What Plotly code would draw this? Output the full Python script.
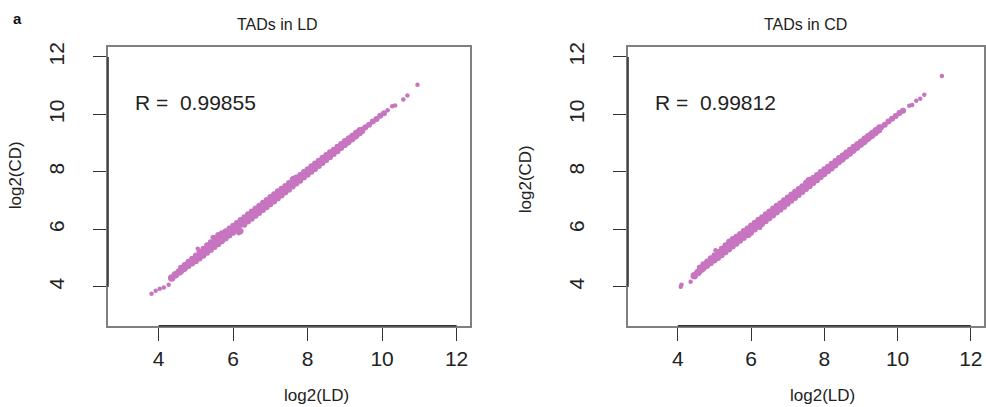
import plotly.graph_objects as go

# ---------------- data ----------------
# Panel 1: TADs in LD  (x = log2(LD), y = log2(CD))
ld_center_x = [4.35, 4.45, 4.55, 4.65, 4.75, 4.85, 4.95, 5.05, 5.15, 5.25, 5.35, 5.45, 5.55, 5.65, 5.75,
               5.85, 5.95, 6.05, 6.15, 6.25, 6.35, 6.45, 6.55, 6.65, 6.75, 6.85, 6.95, 7.05, 7.15, 7.25,
               7.35, 7.45, 7.55, 7.65, 7.75, 7.85, 7.95, 8.05, 8.15, 8.25, 8.35, 8.45, 8.55, 8.65, 8.75,
               8.85, 8.95, 9.05, 9.15, 9.25, 9.35, 9.45, 9.55, 9.65, 9.75, 9.85, 9.95, 10.05]
ld_center_y = [4.30, 4.42, 4.51, 4.63, 4.73, 4.85, 4.94, 5.04, 5.16, 5.24, 5.36, 5.45, 5.57, 5.66, 5.76,
               5.84, 5.97, 6.05, 6.14, 6.26, 6.35, 6.46, 6.54, 6.66, 6.75, 6.86, 6.94, 7.05, 7.16, 7.24,
               7.36, 7.45, 7.54, 7.66, 7.74, 7.85, 7.95, 8.04, 8.15, 8.24, 8.35, 8.45, 8.54, 8.65, 8.74,
               8.85, 8.95, 9.04, 9.15, 9.24, 9.35, 9.44, 9.55, 9.64, 9.75, 9.84, 9.95, 10.04]
ld_edge_x = [4.6, 4.7, 4.8, 4.9, 5.0, 5.1, 5.2, 5.3, 5.4, 5.5, 5.6, 5.7, 5.8, 5.9, 6.0, 6.1, 6.2,
             6.3, 6.4, 6.5, 6.6, 6.7, 6.8, 6.9, 7.0, 7.1, 7.2, 7.3, 7.4, 7.5, 7.6, 7.7, 7.8, 7.9,
             8.0, 8.1, 8.2, 8.3, 8.4, 8.5, 8.6, 8.7, 8.8, 8.9, 9.0, 9.1, 9.2, 9.3, 9.4]
ld_upper_y = [4.66, 4.76, 4.87, 4.97, 5.09, 5.21, 5.32, 5.44, 5.55, 5.70, 5.80, 5.86, 5.93, 6.03, 6.12,
              6.22, 6.32, 6.42, 6.52, 6.62, 6.72, 6.82, 6.92, 7.02, 7.12, 7.22, 7.32, 7.41, 7.51, 7.61,
              7.73, 7.80, 7.89, 7.99, 8.09, 8.19, 8.29, 8.39, 8.49, 8.59, 8.68, 8.77, 8.87, 8.97, 9.07,
              9.16, 9.26, 9.36, 9.46]
ld_lower_y = [4.53, 4.63, 4.72, 4.81, 4.89, 4.98, 5.08, 5.18, 5.28, 5.38, 5.48, 5.58, 5.68, 5.78, 5.88,
              5.96, 5.94, 6.16, 6.27, 6.37, 6.47, 6.57, 6.67, 6.77, 6.87, 6.97, 7.07, 7.18, 7.28, 7.38,
              7.49, 7.59, 7.69, 7.80, 7.90, 8.00, 8.10, 8.20, 8.31, 8.41, 8.51, 8.62, 8.72, 8.83, 8.93,
              9.03, 9.13, 9.24, 9.34]
ld_dots_x = [3.81, 3.92, 4.03, 4.14, 4.27, 5.05, 5.45, 5.60, 5.55, 6.15, 6.20, 7.60, 7.65,
             10.15, 10.27, 10.35, 10.57, 10.68, 10.95]
ld_dots_y = [3.76, 3.86, 3.93, 3.97, 4.07, 5.32, 5.72, 5.80, 5.64, 5.86, 5.90, 7.78, 7.80,
             10.14, 10.28, 10.31, 10.52, 10.66, 11.03]

# Panel 2: TADs in CD
cd_center_x = [4.45, 4.55, 4.65, 4.75, 4.85, 4.95, 5.05, 5.15, 5.25, 5.35, 5.45, 5.55, 5.65, 5.75,
               5.85, 5.95, 6.05, 6.15, 6.25, 6.35, 6.45, 6.55, 6.65, 6.75, 6.85, 6.95, 7.05, 7.15, 7.25,
               7.35, 7.45, 7.55, 7.65, 7.75, 7.85, 7.95, 8.05, 8.15, 8.25, 8.35, 8.45, 8.55, 8.65, 8.75,
               8.85, 8.95, 9.05, 9.15, 9.25, 9.35, 9.45, 9.55, 9.65, 9.75, 9.85, 9.95, 10.05, 10.15]
cd_center_y = [4.38, 4.50, 4.62, 4.73, 4.84, 4.95, 5.04, 5.15, 5.25, 5.34, 5.46, 5.55, 5.64, 5.76,
               5.85, 5.94, 6.05, 6.15, 6.24, 6.36, 6.45, 6.55, 6.64, 6.76, 6.85, 6.95, 7.05, 7.14, 7.25,
               7.36, 7.45, 7.55, 7.64, 7.75, 7.86, 7.95, 8.05, 8.14, 8.25, 8.35, 8.44, 8.55, 8.65, 8.74,
               8.85, 8.95, 9.04, 9.15, 9.25, 9.34, 9.45, 9.55, 9.64, 9.75, 9.85, 9.94, 10.05, 10.13]
cd_edge_x = [4.6, 4.7, 4.8, 4.9, 5.0, 5.1, 5.2, 5.3, 5.4, 5.5, 5.6, 5.7, 5.8, 5.9, 6.0, 6.1, 6.2,
             6.3, 6.4, 6.5, 6.6, 6.7, 6.8, 6.9, 7.0, 7.1, 7.2, 7.3, 7.4, 7.5, 7.6, 7.7, 7.8, 7.9,
             8.0, 8.1, 8.2, 8.3, 8.4, 8.5, 8.6, 8.7, 8.8, 8.9, 9.0, 9.1, 9.2, 9.3, 9.4, 9.5]
cd_upper_y = [4.67, 4.78, 4.88, 4.99, 5.10, 5.21, 5.32, 5.44, 5.56, 5.66, 5.74, 5.84, 5.94, 6.03, 6.13,
              6.23, 6.33, 6.42, 6.52, 6.62, 6.72, 6.82, 6.91, 7.01, 7.11, 7.21, 7.31, 7.40, 7.50, 7.62,
              7.72, 7.79, 7.89, 7.99, 8.09, 8.18, 8.28, 8.38, 8.48, 8.57, 8.67, 8.77, 8.87, 8.96, 9.06,
              9.16, 9.26, 9.35, 9.45, 9.55]
cd_lower_y = [4.54, 4.64, 4.73, 4.82, 4.91, 5.00, 5.10, 5.20, 5.30, 5.40, 5.50, 5.60, 5.70, 5.79, 5.88,
              5.99, 6.09, 6.18, 6.28, 6.38, 6.48, 6.58, 6.68, 6.78, 6.89, 6.99, 7.09, 7.19, 7.30, 7.40,
              7.50, 7.61, 7.71, 7.81, 7.92, 8.02, 8.12, 8.22, 8.33, 8.43, 8.53, 8.63, 8.74, 8.84, 8.94,
              9.04, 9.15, 9.25, 9.35, 9.45]
cd_dots_x = [4.08, 4.10, 4.35, 5.03, 5.40, 5.50, 5.95, 6.25, 7.55, 10.32, 10.40, 10.51, 10.62, 10.73, 11.21]
cd_dots_y = [4.00, 4.07, 4.17, 5.27, 5.60, 5.62, 5.78, 6.05, 7.72, 10.30, 10.33, 10.47, 10.54, 10.68, 11.34]

panel_titles = ["TADs in LD", "TADs in CD"]
r_labels = ["R =\u00a0\u00a00.99855", "R =\u00a0\u00a00.99812"]
tick_vals = [4, 6, 8, 10, 12]
tick_text = ["4", "6", "8", "10", "12"]
axis_range = [2.64, 12.36]

# ---------------- figure ----------------
W, H = 986, 407
PT = "#c775c0"
FONT = "Liberation Sans, Arial, Helvetica, sans-serif"

fig = go.Figure()

def add_pts(xs, ys, xa, ya, size):
    fig.add_trace(go.Scatter(
        x=xs, y=ys, xaxis=xa, yaxis=ya, mode="markers",
        marker=dict(color=PT, size=size, opacity=1, line=dict(width=0)),
        showlegend=False, hoverinfo="skip"))

def center_sizes(xs):
    return [7.5 if v < 9.5 else 6 for v in xs]

add_pts(ld_edge_x + ld_edge_x, ld_upper_y + ld_lower_y, "x", "y", 6)
add_pts(ld_center_x, ld_center_y, "x", "y", center_sizes(ld_center_x))
add_pts(ld_dots_x, ld_dots_y, "x", "y", 4.5)

add_pts(cd_edge_x + cd_edge_x, cd_upper_y + cd_lower_y, "x2", "y2", 6)
add_pts(cd_center_x, cd_center_y, "x2", "y2", center_sizes(cd_center_x))
add_pts(cd_dots_x, cd_dots_y, "x2", "y2", 4.5)

def px(v):
    return v / W

def py(v):
    return 1 - v / H

ydom = [py(325), py(43)]
ax_common = dict(
    range=axis_range, tickvals=tick_vals, ticktext=tick_text,
    ticks="outside", ticklen=13, tickwidth=1.3, tickcolor="#333333",
    showline=True, mirror=True, linecolor="#808080", linewidth=1.6,
    showgrid=False, zeroline=False,
    tickfont=dict(family=FONT, size=21, color="#222222"),
    fixedrange=True,
)

fig.update_layout(
    width=W, height=H,
    margin=dict(l=0, r=0, t=0, b=0),
    paper_bgcolor="white", plot_bgcolor="white",
    xaxis=dict(domain=[px(108), px(470)], anchor="y", ticklabelstandoff=0, **ax_common),
    yaxis=dict(domain=ydom, anchor="x", tickangle=-90, ticklabelstandoff=21, **ax_common),
    xaxis2=dict(domain=[px(628), px(984)], anchor="y2", ticklabelstandoff=0, **ax_common),
    yaxis2=dict(domain=ydom, anchor="x2", tickangle=-90, ticklabelstandoff=21, **ax_common),
)

# darker R-style axis segments from 4 to 12
shapes = []
for xa, ya in [("x", "y"), ("x2", "y2")]:
    shapes.append(dict(type="line", xref=xa, yref=ya + " domain", x0=4, x1=12, y0=0, y1=0,
                       line=dict(color="#333333", width=1.6)))
    shapes.append(dict(type="line", xref=xa + " domain", yref=ya, x0=0, x1=0, y0=4, y1=12,
                       line=dict(color="#333333", width=1.6)))
fig.update_layout(shapes=shapes)

ann = []
def text(x, y, s, size, xanchor="center", angle=0, bold=False, color="#222222"):
    ann.append(dict(x=px(x), y=py(y), xref="paper", yref="paper", text=("<b>%s</b>" % s) if bold else s,
                    showarrow=False, xanchor=xanchor, yanchor="middle", textangle=angle,
                    font=dict(family=FONT, size=size, color=color)))

text(17, 15, "a", 15, bold=True, color="#111111")
text(277, 21, panel_titles[0], 16)
text(805, 21, panel_titles[1], 16)
text(133, 99, r_labels[0], 21, xanchor="left")
text(653, 99, r_labels[1], 21, xanchor="left")
text(316, 395, "log2(LD)", 17)
text(822, 395, "log2(LD)", 17)
text(15, 173, "log2(CD)", 17, angle=-90)
text(525, 177, "log2(CD)", 17, angle=-90)
fig.update_layout(annotations=ann)

fig.write_html("out.html", config={"displayModeBar": False})
